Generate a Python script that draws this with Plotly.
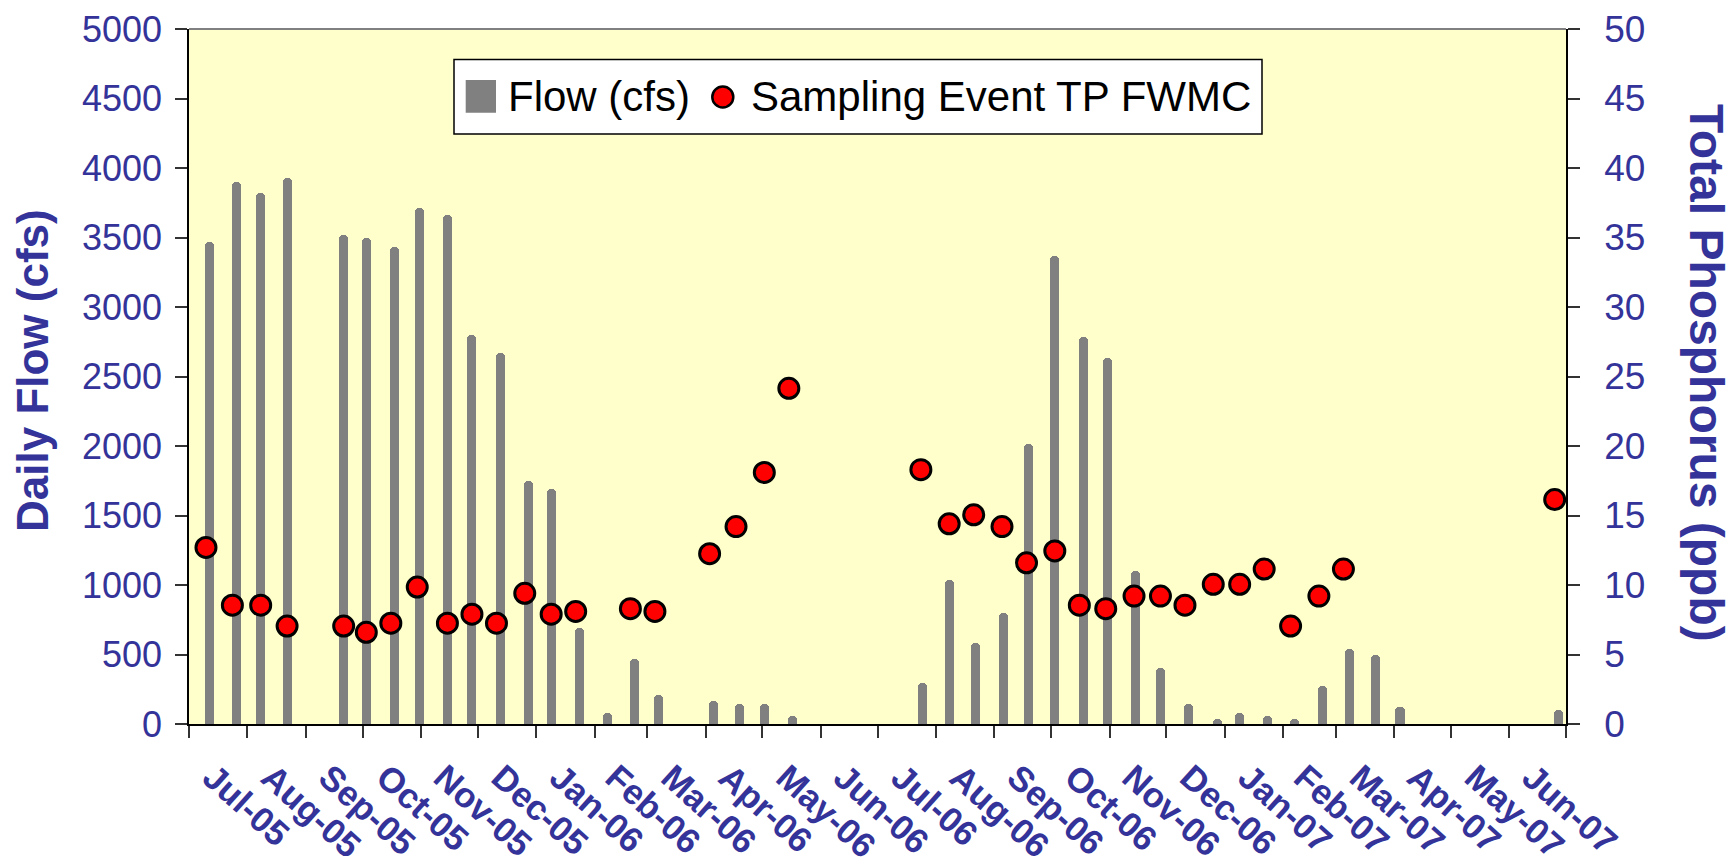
import plotly.graph_objects as go

# ---------------- data ----------------
flow_dates = ["2005-07-12", "2005-07-26", "2005-08-08", "2005-08-22", "2005-09-21",
              "2005-10-03", "2005-10-18", "2005-10-31", "2005-11-15", "2005-11-28",
              "2005-12-13", "2005-12-28", "2006-01-09", "2006-01-24", "2006-02-08",
              "2006-02-22", "2006-03-07", "2006-04-05", "2006-04-19", "2006-05-02",
              "2006-05-17", "2006-07-25", "2006-08-08", "2006-08-22", "2006-09-06",
              "2006-09-19", "2006-10-03", "2006-10-18", "2006-10-31", "2006-11-15",
              "2006-11-28", "2006-12-13", "2006-12-28", "2007-01-09", "2007-01-24",
              "2007-02-07", "2007-02-22", "2007-03-08", "2007-03-22", "2007-04-04",
              "2007-06-27"]
flow_cfs = [3470, 3900, 3820, 3925, 3515,
            3495, 3430, 3710, 3665, 2800,
            2670, 1750, 1690, 690, 80,
            470, 210, 165, 145, 145,
            60, 295, 1035, 580, 800,
            2015, 3370, 2785, 2635, 1100,
            405, 145, 36, 80, 60,
            36, 277, 537, 494, 123,
            99]

tp_dates = ["2005-07-10", "2005-07-24", "2005-08-08", "2005-08-22", "2005-09-21",
            "2005-10-03", "2005-10-16", "2005-10-30", "2005-11-15", "2005-11-28",
            "2005-12-11", "2005-12-26", "2006-01-09", "2006-01-22", "2006-02-20",
            "2006-03-05", "2006-04-03", "2006-04-17", "2006-05-02", "2006-05-15",
            "2006-07-24", "2006-08-08", "2006-08-21", "2006-09-05", "2006-09-18",
            "2006-10-03", "2006-10-16", "2006-10-30", "2006-11-14", "2006-11-28",
            "2006-12-11", "2006-12-26", "2007-01-09", "2007-01-22", "2007-02-05",
            "2007-02-20", "2007-03-05", "2007-06-25"]
tp_ppb = [12.7, 8.55, 8.55, 7.05, 7.05,
          6.6, 7.25, 9.85, 7.25, 7.9,
          7.25, 9.4, 7.9, 8.1, 8.3,
          8.1, 12.25, 14.2, 18.1, 24.15,
          18.3, 14.4, 15.05, 14.2, 11.6,
          12.45, 8.55, 8.3, 9.2, 9.2,
          8.55, 10.05, 10.05, 11.15, 7.05,
          9.2, 11.15, 16.15]

flow_ticks = list(range(0, 5001, 500))
tp_ticks = list(range(0, 51, 5))
x_start, x_end = "2005-07-01", "2007-07-01"

series_names = ["Flow (cfs)", "Sampling Event TP FWMC"]
axis_titles = ["Daily Flow (cfs)", "Total Phosphorus (ppb)"]

# ---------------- style ----------------
NAVY = "#333399"
FONT = "Arial, Liberation Sans, sans-serif"
W, H = 1734, 868
L, R, T, B = 189, 168, 29, 144
PW, PH = W - L - R, H - T - B


def px_x(px):
    return (px - L) / PW


def px_y(py):
    return (H - B - py) / PH


fig = go.Figure()

fig.add_trace(go.Bar(
    x=flow_dates, y=flow_cfs, name=series_names[0],
    width=4.8 * 86400000,
    marker=dict(color="#808080", line=dict(width=0), cornerradius=4),
    yaxis="y", showlegend=False,
))

fig.add_trace(go.Scatter(
    x=tp_dates, y=tp_ppb, name=series_names[1], mode="markers",
    marker=dict(color="#FF0000", size=20, line=dict(color="#000000", width=3)),
    yaxis="y2", cliponaxis=False, showlegend=False,
))

fig.update_layout(
    width=W, height=H,
    margin=dict(l=L, r=R, t=T, b=B, autoexpand=False),
    paper_bgcolor="#FFFFFF",
    plot_bgcolor="#FFFFCC",
    bargap=0,
    showlegend=False,
    xaxis=dict(
        type="date", range=[x_start, x_end],
        tick0=x_start, dtick="M1", tickformat="%b-%y",
        ticklabelmode="period", tickangle=42,
        ticks="outside", ticklen=12, tickwidth=1.5, tickcolor="#333333",
        tickfont=dict(family=FONT, size=35, color=NAVY, weight="bold"),
        ticklabelstandoff=5, ticklabelshift=-6,
        showline=True, linecolor="#000000", linewidth=2,
        showgrid=False, zeroline=False,
    ),
    yaxis=dict(
        range=[0, 5000], tickvals=flow_ticks,
        ticks="outside", ticklen=12, tickwidth=1.5, tickcolor="#333333",
        tickfont=dict(family=FONT, size=36, color=NAVY),
        ticklabelstandoff=6,
        showline=True, linecolor="#000000", linewidth=1.5,
        showgrid=False, zeroline=False,
    ),
    yaxis2=dict(
        range=[0, 50], tickvals=tp_ticks, overlaying="y", side="right",
        ticks="outside", ticklen=12, tickwidth=1.5, tickcolor="#333333",
        tickfont=dict(family=FONT, size=37, color=NAVY),
        ticklabelstandoff=17,
        showline=True, linecolor="#000000", linewidth=1.5,
        showgrid=False, zeroline=False,
    ),
)

shapes = [
    # top border of plot area (gray)
    dict(type="line", xref="paper", yref="paper", x0=0, x1=1, y0=1, y1=1,
         line=dict(color="#808080", width=2)),
    # legend box
    dict(type="rect", xref="paper", yref="paper",
         x0=px_x(454), x1=px_x(1262), y0=px_y(134), y1=px_y(59.5),
         fillcolor="#FFFFFF", line=dict(color="#000000", width=1.5)),
    # legend: flow swatch
    dict(type="rect", xref="paper", yref="paper",
         x0=px_x(465.7), x1=px_x(496), y0=px_y(112.7), y1=px_y(80),
         fillcolor="#808080", line=dict(color="#808080", width=0)),
    # legend: TP marker
    dict(type="circle", xref="paper", yref="paper",
         x0=px_x(712.3), x1=px_x(733.3), y0=px_y(107.5), y1=px_y(86.5),
         fillcolor="#FF0000", line=dict(color="#000000", width=2.5)),
]
fig.update_layout(shapes=shapes)

annotations = [
    dict(text=series_names[0], xref="paper", yref="paper",
         x=px_x(506), y=px_y(96.5), xanchor="left", yanchor="middle",
         showarrow=False, font=dict(family=FONT, size=42, color="#000000")),
    dict(text=series_names[1], xref="paper", yref="paper",
         x=px_x(748.5), y=px_y(96.5), xanchor="left", yanchor="middle",
         showarrow=False, font=dict(family=FONT, size=42, color="#000000")),
    dict(text=axis_titles[0], xref="paper", yref="paper",
         x=px_x(32), y=px_y(371), xanchor="center", yanchor="middle",
         textangle=-90, showarrow=False,
         font=dict(family=FONT, size=44, color=NAVY, weight="bold")),
    dict(text=axis_titles[1], xref="paper", yref="paper",
         x=px_x(1707), y=px_y(373), xanchor="center", yanchor="middle",
         textangle=90, showarrow=False,
         font=dict(family=FONT, size=48, color=NAVY, weight="bold")),
]
fig.update_layout(annotations=annotations)

fig.write_html("out.html",
               config={"displayModeBar": False},
               post_script="document.body.style.margin='0';document.body.style.overflow='hidden';")
